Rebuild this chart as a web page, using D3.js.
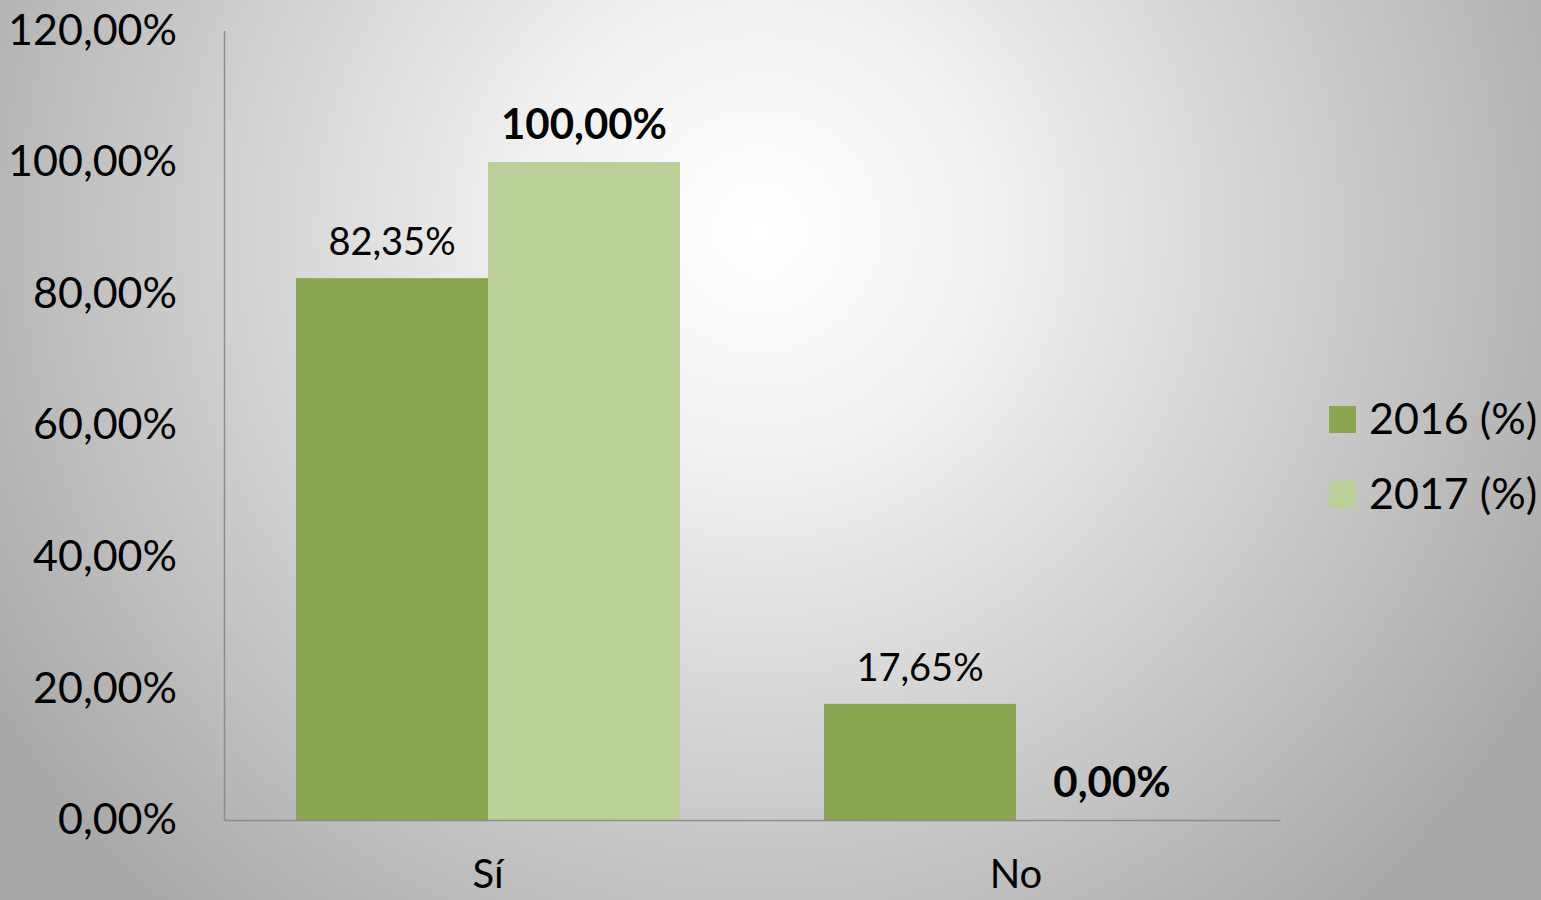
<!DOCTYPE html>
<html><head><meta charset="utf-8">
<script src="https://cdn.jsdelivr.net/npm/d3@7"></script>
<style>html,body{margin:0;padding:0;overflow:hidden;} svg{display:block;}</style>
</head><body>
<svg id="chart" width="1541" height="900"></svg>
<script>
const categories = ["Sí", "No"];
const seriesNames = ["2016 (%)", "2017 (%)"];
const values2016 = [82.35, 17.65];
const values2017 = [100.00, 0.00];
const yTicks = [0, 20, 40, 60, 80, 100, 120];
const labelBold = [false, true];
const colors = ["#8ba650", "#bbd098"];

const W = 1541, H = 900;
const svg = d3.select("#chart");
const font = "Lato, 'Open Sans', sans-serif";

const defs = svg.append("defs");
const grad = defs.append("radialGradient").attr("id", "bg")
  .attr("gradientUnits", "userSpaceOnUse")
  .attr("cx", 760).attr("cy", 230).attr("r", 900);
grad.append("stop").attr("offset", "0%").attr("stop-color", "#ffffff");
grad.append("stop").attr("offset", "25%").attr("stop-color", "#f2f2f2");
grad.append("stop").attr("offset", "100%").attr("stop-color", "#a9a9a9");
svg.append("rect").attr("width", W).attr("height", H).attr("fill", "url(#bg)");

const plot = {left: 224, right: 1280, top: 30.4, bottom: 820};
const y = d3.scaleLinear().domain([0, 120]).range([plot.bottom, plot.top]);
const x0 = d3.scaleBand().domain(categories).range([plot.left, plot.right]).paddingInner(0).paddingOuter(0);
const x1 = d3.scaleBand().domain(seriesNames).range([0, 384]);
const groupOffset = (x0.bandwidth() - 384) / 2;

const data = categories.map((c, i) => ({cat: c, vals: [values2016[i], values2017[i]]}));

// bars
const g = svg.append("g");
data.forEach(d => {
  d.vals.forEach((v, si) => {
    const bx = x0(d.cat) + groupOffset + x1(seriesNames[si]);
    g.append("rect").attr("x", bx).attr("width", x1.bandwidth())
      .attr("y", y(v)).attr("height", y(0) - y(v)).attr("fill", colors[si]);
    g.append("text").attr("x", bx + x1.bandwidth() / 2).attr("y", y(v) - 23)
      .attr("text-anchor", "middle").attr("font-family", font)
      .attr("font-size", labelBold[si] ? 42 : 38).attr("font-weight", labelBold[si] ? "bold" : "normal")
      .attr("fill", "#000").text(d3.format(".2f")(v).replace(".", ",") + "%");
  });
});

// y axis
const yAxis = d3.axisLeft(y).tickValues(yTicks).tickSize(0).tickPadding(47)
  .tickFormat(v => d3.format(".2f")(v).replace(".", ",") + "%");
const ya = svg.append("g").attr("transform", `translate(${plot.left},0)`).call(yAxis);
ya.select(".domain").attr("stroke", "#8c8c8c").attr("stroke-width", 1.5);
ya.selectAll("text").attr("font-family", font).attr("font-size", 43).attr("fill", "#000");

// x axis
const xAxis = d3.axisBottom(x0).tickSize(0).tickPadding(40);
const xa = svg.append("g").attr("transform", `translate(0,${plot.bottom})`).call(xAxis);
xa.select(".domain").attr("stroke", "#8c8c8c").attr("stroke-width", 1.5);
xa.selectAll("text").attr("font-family", font).attr("font-size", 40).attr("fill", "#000");

// legend
const leg = svg.append("g");
seriesNames.forEach((s, i) => {
  const ly = 406 + i * 75;
  leg.append("rect").attr("x", 1329).attr("y", ly).attr("width", 27).attr("height", 27).attr("fill", colors[i]);
  leg.append("text").attr("x", 1369).attr("y", ly + 28).attr("font-family", font)
    .attr("font-size", 43).attr("fill", "#000").text(s);
});
</script>
</body></html>
